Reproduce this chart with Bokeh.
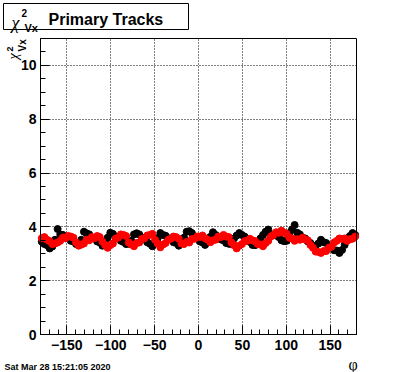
from bokeh.plotting import figure
from bokeh.models import Label, SingleIntervalTicker, Range1d, BoxAnnotation
from bokeh.embed import file_html
from bokeh.resources import INLINE

# ---- data ----
phi = [-178.5 + 3 * i for i in range(120)]  # bin centres, 3 degree bins

chi2_black = [
    3.45, 3.36, 3.32, 3.20, 3.27, 3.52, 3.92, 3.72, 3.70, 3.58,
    3.57, 3.48, 3.46, 3.36, 3.37, 3.52, 3.82, 3.76, 3.72, 3.60,
    3.57, 3.46, 3.42, 3.30, 3.42, 3.60, 3.78, 3.74, 3.63, 3.60,
    3.48, 3.44, 3.36, 3.37, 3.48, 3.72, 3.76, 3.72, 3.60, 3.57,
    3.43, 3.37, 3.28, 3.40, 3.58, 3.77, 3.70, 3.67, 3.58, 3.54,
    3.43, 3.40, 3.30, 3.42, 3.60, 3.82, 3.84, 3.77, 3.63, 3.57,
    3.46, 3.42, 3.33, 3.44, 3.63, 3.80, 3.70, 3.64, 3.53, 3.50,
    3.40, 3.37, 3.36, 3.57, 3.68, 3.77, 3.70, 3.64, 3.50, 3.44,
    3.33, 3.32, 3.36, 3.57, 3.70, 3.82, 3.90, 3.73, 3.70, 3.68,
    3.62, 3.50, 3.47, 3.48, 3.77, 3.90, 4.07, 3.78, 3.72, 3.60,
    3.57, 3.46, 3.40, 3.28, 3.30, 3.38, 3.52, 3.43, 3.40, 3.28,
    3.24, 3.13, 3.12, 3.03, 3.14, 3.33, 3.57, 3.66, 3.77, 3.70,
]

chi2_red = [
    3.58, 3.62, 3.52, 3.47, 3.36, 3.38, 3.42, 3.48, 3.60, 3.58,
    3.66, 3.64, 3.60, 3.42, 3.30, 3.34, 3.38, 3.52, 3.50, 3.62,
    3.58, 3.66, 3.62, 3.45, 3.33, 3.22, 3.32, 3.38, 3.56, 3.60,
    3.72, 3.70, 3.66, 3.42, 3.34, 3.28, 3.40, 3.42, 3.55, 3.58,
    3.68, 3.70, 3.74, 3.52, 3.38, 3.24, 3.34, 3.40, 3.52, 3.56,
    3.64, 3.62, 3.56, 3.38, 3.36, 3.44, 3.42, 3.55, 3.56, 3.64,
    3.62, 3.68, 3.58, 3.52, 3.43, 3.50, 3.52, 3.64, 3.62, 3.70,
    3.64, 3.62, 3.42, 3.32, 3.20, 3.30, 3.36, 3.47, 3.48, 3.56,
    3.50, 3.47, 3.36, 3.34, 3.28, 3.40, 3.48, 3.64, 3.70, 3.80,
    3.78, 3.86, 3.78, 3.74, 3.60, 3.57, 3.48, 3.54, 3.52, 3.60,
    3.53, 3.50, 3.33, 3.22, 3.08, 3.07, 3.03, 3.10, 3.10, 3.22,
    3.26, 3.42, 3.48, 3.57, 3.55, 3.57, 3.48, 3.54, 3.56, 3.64,
]

x_grid_ticks = [-150, -100, -50, 0, 50, 100, 150]
y_grid_ticks = [2, 4, 6, 8, 10]
x_tick_labels = {-150: "\u2212150", -100: "\u2212100", -50: "\u221250", 0: "0",
                 50: "50", 100: "100", 150: "150"}

title_text = "Primary Tracks"
date_text = "Sat Mar 28 15:21:05 2020"

# ---- layout ----
W, H = 396, 372
FL, FR, FT, FB = 40, 356, 38, 334      # ROOT frame edges in canvas pixels
XMIN, XMAX, YMIN, YMAX = -180, 180, 0, 11
SANS = "Liberation Sans"
SERIF = "Liberation Serif"

# the plotting frame covers the whole canvas; the ROOT frame is drawn inside
kx = (XMAX - XMIN) / (FR - FL)
ky = (YMAX - YMIN) / (FB - FT)
x_range = Range1d(XMIN - FL * kx, XMAX + (W - FR) * kx)
y_range = Range1d(YMIN - (H - FB) * ky, YMAX + FT * ky)

p = figure(width=W, height=H, output_backend="svg", toolbar_location=None,
           x_range=x_range, y_range=y_range,
           min_border_left=0, min_border_right=0,
           min_border_top=0, min_border_bottom=0)
p.background_fill_color = "white"
p.border_fill_color = "white"
p.outline_line_color = None

xa = p.xaxis[0]
ya = p.yaxis[0]
xa.ticker = SingleIntervalTicker(interval=50, num_minor_ticks=5)
ya.ticker = SingleIntervalTicker(interval=2, num_minor_ticks=4)
xa.major_label_overrides = x_tick_labels
xa.fixed_location = YMIN
ya.fixed_location = XMIN
xa.bounds = (XMIN, XMAX)
ya.bounds = (YMIN, YMAX)

for ax in (xa, ya):
    ax.axis_line_color = "black"
    ax.major_tick_line_color = "black"
    ax.minor_tick_line_color = "black"
    ax.major_tick_out = 0
    ax.minor_tick_out = 0
    ax.major_label_text_font = SANS
    ax.major_label_text_font_style = "bold"
    ax.major_label_text_font_size = "14px"
    ax.major_label_text_color = "black"
xa.major_tick_in = 9
xa.minor_tick_in = 5
ya.major_tick_in = 9
ya.minor_tick_in = 5
xa.major_label_standoff = 5
ya.major_label_standoff = 4

# dotted grid inside the ROOT frame
xg, yg = p.xgrid[0], p.ygrid[0]
if "cross_bounds" in xg.properties():
    xg.bounds = (XMIN, XMAX)
    yg.bounds = (YMIN, YMAX)
    xg.cross_bounds = (YMIN, YMAX)
    yg.cross_bounds = (XMIN, XMAX)
    for g in (xg, yg):
        g.grid_line_color = "black"
        g.grid_line_dash = "1 2"
        g.grid_line_width = 1
        g.grid_line_alpha = 1.0
else:
    xg.visible = False
    yg.visible = False
    p.segment(x0=x_grid_ticks, y0=[YMIN] * len(x_grid_ticks),
              x1=x_grid_ticks, y1=[YMAX] * len(x_grid_ticks),
              line_color="black", line_dash="1 2", line_width=1)
    p.segment(x0=[XMIN] * len(y_grid_ticks), y0=y_grid_ticks,
              x1=[XMAX] * len(y_grid_ticks), y1=y_grid_ticks,
              line_color="black", line_dash="1 2", line_width=1)

p.scatter(phi, chi2_black, size=7, color="black")
p.scatter(phi, chi2_red, size=7, color="red")

# ROOT frame
p.add_layout(BoxAnnotation(left=XMIN, right=XMAX, bottom=YMIN, top=YMAX,
                           fill_color=None, line_color="black", line_width=1,
                           line_alpha=1.0))


def lab(text, sx, sy, size, font=SANS, style="bold", angle=0):
    # sx, sy: canvas pixels measured from the top-left corner
    p.add_layout(Label(x=sx, y=H - sy, x_units="screen", y_units="screen",
                       text=text, text_font=font,
                       text_font_size=size, text_font_style=style,
                       text_baseline="alphabetic", text_align="left",
                       text_color="black", angle=angle, angle_units="deg"))


# title pave
p.add_layout(BoxAnnotation(left=3, right=188, top=H - 3, bottom=H - 29,
                           left_units="screen", right_units="screen",
                           top_units="screen", bottom_units="screen",
                           fill_color="white", fill_alpha=1.0,
                           line_color="black", line_width=1, line_alpha=1.0))
lab(title_text, 48, 18.5, "16px")
lab("\u03c7", 11, 22, "18px", font=SERIF, style="italic")
lab("2", 21, 12, "10px")
lab("Vx", 24, 27, "11px")

# y axis title (rotated)
lab("\u03c7", 13, 59, "14px", font=SERIF, style="italic", angle=90)
lab("2", 9, 51, "9px", angle=90)
lab("Vx", 22, 51, "10px", angle=90)

# x axis title
lab("\u03c6", 348, 364, "16px", font=SERIF, style="normal")

# date stamp
lab(date_text, 4, 366, "9px")

open("out.html", "w").write(file_html(p, INLINE))
